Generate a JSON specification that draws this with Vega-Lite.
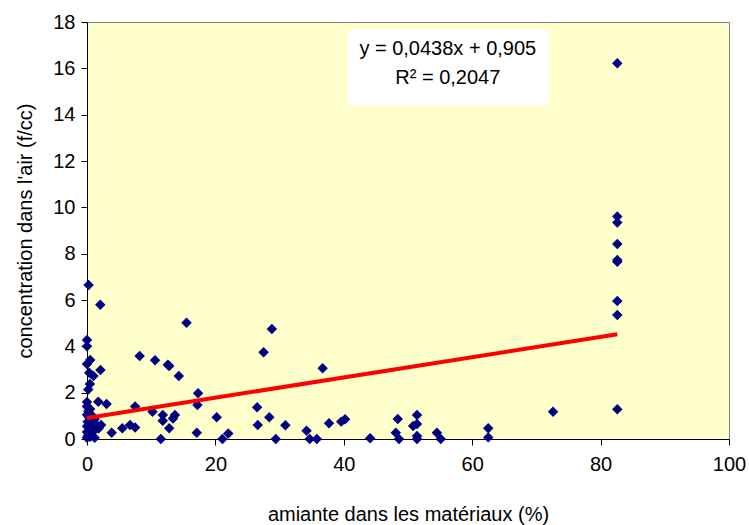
{
  "$schema": "https://vega.github.io/schema/vega-lite/v6.json",
  "width": 642,
  "height": 417,
  "autosize": {"type": "none"},
  "padding": {"left": 87, "top": 22, "right": 20, "bottom": 86},
  "background": "white",
  "config": {
    "font": "Liberation Sans",
    "view": {"fill": "#FFFFCC", "stroke": "#808080", "strokeWidth": 1},
    "axis": {
      "grid": false,
      "domainColor": "#000000",
      "tickColor": "#000000",
      "tickSize": 6,
      "labelColor": "#000000",
      "titleColor": "#000000",
      "labelFont": "Liberation Sans",
      "titleFont": "Liberation Sans",
      "labelFontSize": 20,
      "titleFontSize": 20,
      "titleFontWeight": "normal",
      "labelFlush": false
    }
  },
  "datasets": {
    "samples": [
      {"x": 0.25, "y": 6.65}, {"x": 2.07, "y": 5.8}, {"x": 0, "y": 4.27}, {"x": 0, "y": 4.0},
      {"x": 0.5, "y": 3.41}, {"x": 0, "y": 3.24}, {"x": 0.35, "y": 2.86}, {"x": 1.0, "y": 2.72},
      {"x": 2.1, "y": 2.98}, {"x": 0.45, "y": 2.37}, {"x": 0.2, "y": 2.14}, {"x": 1.75, "y": 1.61},
      {"x": 3.05, "y": 1.51}, {"x": 0, "y": 1.6}, {"x": 0, "y": 1.4}, {"x": 0.2, "y": 1.2},
      {"x": 0.5, "y": 1.3}, {"x": 0, "y": 1.05}, {"x": 0.3, "y": 0.95}, {"x": 0.8, "y": 1.0},
      {"x": 1.2, "y": 0.85}, {"x": 0.1, "y": 0.75}, {"x": 0.6, "y": 0.7}, {"x": 1.5, "y": 0.6},
      {"x": 0, "y": 0.55}, {"x": 0.4, "y": 0.45}, {"x": 1.1, "y": 0.5}, {"x": 0, "y": 0.3},
      {"x": 0.3, "y": 0.25}, {"x": 0.9, "y": 0.3}, {"x": 0.15, "y": 0.15}, {"x": 0, "y": 0.05},
      {"x": 0.5, "y": 0.1}, {"x": 1.2, "y": 0.05}, {"x": 1.8, "y": 0.45}, {"x": 2.2, "y": 0.6},
      {"x": 15.5, "y": 5.02}, {"x": 28.8, "y": 4.75}, {"x": 27.5, "y": 3.74}, {"x": 36.7, "y": 3.05},
      {"x": 8.2, "y": 3.58}, {"x": 10.6, "y": 3.4}, {"x": 12.6, "y": 3.2}, {"x": 12.8, "y": 3.15},
      {"x": 14.3, "y": 2.72}, {"x": 17.3, "y": 1.97}, {"x": 17.2, "y": 1.47}, {"x": 7.5, "y": 1.4},
      {"x": 10.2, "y": 1.18}, {"x": 11.8, "y": 1.04}, {"x": 13.7, "y": 1.04}, {"x": 13.4, "y": 0.89},
      {"x": 11.8, "y": 0.79}, {"x": 12.8, "y": 0.46}, {"x": 5.5, "y": 0.46}, {"x": 6.7, "y": 0.6},
      {"x": 7.5, "y": 0.5}, {"x": 3.85, "y": 0.27}, {"x": 11.5, "y": 0}, {"x": 17.1, "y": 0.27},
      {"x": 20.2, "y": 0.94}, {"x": 26.5, "y": 1.37}, {"x": 28.4, "y": 0.94}, {"x": 26.6, "y": 0.6},
      {"x": 30.9, "y": 0.59}, {"x": 22.0, "y": 0.24}, {"x": 21.1, "y": 0}, {"x": 29.4, "y": 0},
      {"x": 34.2, "y": 0.36}, {"x": 34.7, "y": 0}, {"x": 35.8, "y": 0}, {"x": 37.7, "y": 0.68},
      {"x": 39.6, "y": 0.75}, {"x": 40.2, "y": 0.85}, {"x": 44.1, "y": 0.03}, {"x": 48.4, "y": 0.86},
      {"x": 48.1, "y": 0.27}, {"x": 48.6, "y": 0}, {"x": 51.4, "y": 1.04}, {"x": 51.4, "y": 0.65},
      {"x": 50.8, "y": 0.56}, {"x": 51.4, "y": 0.13}, {"x": 51.4, "y": 0}, {"x": 54.5, "y": 0.27},
      {"x": 55.1, "y": 0}, {"x": 62.5, "y": 0.46}, {"x": 62.5, "y": 0.07}, {"x": 72.6, "y": 1.18},
      {"x": 82.6, "y": 1.28}, {"x": 82.6, "y": 5.35}, {"x": 82.6, "y": 5.96}, {"x": 82.6, "y": 7.65},
      {"x": 82.6, "y": 7.73}, {"x": 82.6, "y": 8.42}, {"x": 82.6, "y": 9.34}, {"x": 82.6, "y": 9.6},
      {"x": 82.6, "y": 16.22}
    ],
    "trend": [
      {"x": 0, "y": 0.905},
      {"x": 82.6, "y": 4.523}
    ],
    "box": [
      {"x": 40.6, "x2": 72.0, "y": 17.65, "y2": 14.42}
    ],
    "equation": [
      {"x": 56.2, "y": 16.83, "label": "y = 0,0438x + 0,905"},
      {"x": 56.2, "y": 15.58, "label": "R² = 0,2047"}
    ]
  },
  "encoding": {
    "x": {
      "field": "x",
      "type": "quantitative",
      "scale": {"domain": [0, 100], "nice": false, "zero": false},
      "axis": {"values": [0, 20, 40, 60, 80, 100], "labelPadding": 9, "titlePadding": 30, "title": "amiante dans les matériaux (%)"}
    },
    "y": {
      "field": "y",
      "type": "quantitative",
      "scale": {"domain": [0, 18], "nice": false, "zero": false},
      "axis": {"values": [0, 2, 4, 6, 8, 10, 12, 14, 16, 18], "labelPadding": 6, "titlePadding": 17, "title": "concentration dans l'air (f/cc)"}
    }
  },
  "layer": [
    {
      "data": {"name": "box"},
      "mark": {"type": "rect", "fill": "#FFFFFF", "stroke": null},
      "encoding": {"x2": {"field": "x2"}, "y2": {"field": "y2"}}
    },
    {
      "data": {"name": "samples"},
      "mark": {"type": "point", "shape": "diamond", "filled": true, "size": 110, "color": "#000080", "opacity": 1}
    },
    {
      "data": {"name": "trend"},
      "mark": {"type": "line", "color": "#FF0000", "strokeWidth": 4}
    },
    {
      "data": {"name": "equation"},
      "mark": {"type": "text", "fontSize": 20, "color": "#000000", "align": "center", "baseline": "middle", "font": "Liberation Sans"},
      "encoding": {"text": {"field": "label"}}
    }
  ]
}
